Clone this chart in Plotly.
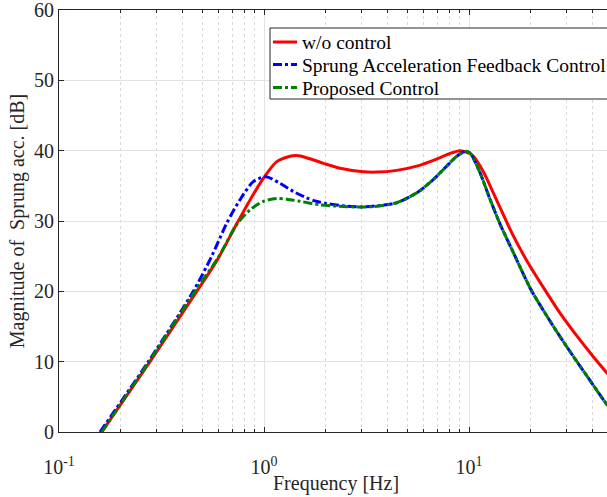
import math
import plotly.graph_objects as go

# ---------------- data ----------------
freq_wo = [0.1616, 0.278, 0.470, 0.59, 0.736, 0.855, 1.0, 1.15, 1.34, 1.445, 1.61, 1.95,
           2.35, 3.05, 3.55, 4.44, 5.56, 6.95, 8.07, 9.03, 10.1, 10.5, 11.75, 13.14,
           14.7, 16.4, 19.1, 23.0, 27.8, 33.5, 40.4, 47.1, 50.0]
mag_wo = [0.0, 10.0, 20.0, 24.4, 29.6, 33.0, 36.2, 38.4, 39.2, 39.3, 39.0, 38.2,
          37.5, 37.0, 36.95, 37.2, 37.8, 38.8, 39.6, 40.0, 39.6, 39.2, 37.0, 34.0,
          30.9, 27.95, 24.4, 20.6, 16.9, 13.7, 10.7, 8.4, 7.6]

freq_safc = [0.1585, 0.2727, 0.452, 0.556, 0.658, 0.763, 0.887, 1.02, 1.19, 1.39, 1.61,
             1.8, 2.02, 2.53, 3.05, 3.68, 4.44, 5.56, 6.70, 7.78, 8.71, 9.56, 10.1,
             11.3, 12.66, 14.15, 16.4, 20.0, 24.8, 30.0, 37.5, 47.1, 50.0]
mag_safc = [0.0, 10.0, 20.0, 25.0, 29.7, 33.0, 35.6, 36.3, 35.4, 34.2, 33.3,
            32.8, 32.5, 32.1, 32.0, 32.2, 32.6, 34.0, 35.9, 37.8, 39.2, 39.9, 39.7,
            36.9, 33.1, 29.6, 25.6, 20.3, 15.8, 12.1, 8.0, 3.9, 3.1]

freq_prop = [0.1616, 0.275, 0.4603, 0.598, 0.736, 0.855, 0.993, 1.15, 1.29, 1.5, 1.87,
             2.3, 2.83, 3.41, 4.44, 5.56, 6.70, 7.78, 8.71, 9.56, 10.1, 11.3, 12.66,
             14.15, 16.4, 20.0, 24.8, 30.0, 37.5, 47.1, 50.0]
mag_prop = [0.0, 10.0, 20.0, 24.8, 29.5, 31.6, 32.8, 33.2, 33.1, 32.8, 32.3,
            32.1, 32.0, 32.05, 32.6, 34.0, 35.9, 37.8, 39.2, 39.9, 39.7, 36.9, 33.1,
            29.6, 25.6, 20.3, 15.8, 12.1, 8.0, 3.9, 3.1]

series_names = ["w/o control", "Sprung Acceleration Feedback Control", "Proposed Control"]
series_colors = ["#ff0000", "#0000ff", "#008000"]
series_dash = ["solid", "dashdot", "dashdot"]

x_major_ticks = [0.1, 1, 10]
x_major_text = ["10<sup>-1</sup>", "10<sup>0</sup>", "10<sup>1</sup>"]
x_minor_ticks = [0.2, 0.3, 0.4, 0.5, 0.6, 0.7, 0.8, 0.9,
                 2, 3, 4, 5, 6, 7, 8, 9, 20, 30, 40]
y_ticks = [0, 10, 20, 30, 40, 50, 60]

x_title = "Frequency [Hz]"
y_title = "Magnitude of\u00a0 Sprung acc. [dB]"

# ---------------- figure ----------------
FONT = "Liberation Serif, Times New Roman, serif"
AX = "#262626"
W, H = 607, 497
ML, MT, MB = 59, 10, 65
PW, PH = W - ML, H - MT - MB

fig = go.Figure()
for fx, my, nm, col, ds in zip([freq_wo, freq_safc, freq_prop], [mag_wo, mag_safc, mag_prop],
                               series_names, series_colors, series_dash):
    fig.add_trace(go.Scatter(x=fx, y=my, name=nm, mode="lines", showlegend=False,
                             line=dict(color=col, width=3, dash=ds, shape="spline",
                                       smoothing=0.7)))

def px_x(p):
    return (p - ML) / PW

def px_y(p):
    return (H - MB - p) / PH

# legend drawn as a framed box (it runs past the right edge as in the reference)
fig.add_shape(type="rect", xref="paper", yref="paper",
              x0=px_x(270), x1=px_x(640), y0=px_y(99), y1=px_y(28),
              line=dict(color=AX, width=1), fillcolor="white", layer="above")
row_y = [42, 64.5, 87.5]
for ry, nm, col, ds in zip(row_y, series_names, series_colors, series_dash):
    fig.add_shape(type="line", xref="paper", yref="paper",
                  x0=px_x(273), x1=px_x(297), y0=px_y(ry), y1=px_y(ry),
                  line=dict(color=col, width=3, dash=ds), layer="above")
    fig.add_annotation(text=nm, xref="paper", yref="paper", x=px_x(300), y=px_y(ry + 1),
                       xanchor="left", yanchor="middle", showarrow=False,
                       font=dict(family=FONT, size=19.5, color="black"))

# x axis title
fig.add_annotation(text=x_title, xref="paper", yref="paper", x=px_x(336), y=px_y(483),
                   xanchor="center", yanchor="middle", showarrow=False,
                   font=dict(family=FONT, size=20, color=AX))

fig.update_layout(
    width=W, height=H,
    margin=dict(l=ML, r=0, t=MT, b=MB),
    paper_bgcolor="white", plot_bgcolor="white",
    font=dict(family=FONT, size=20, color=AX),
    showlegend=False,
)

fig.update_xaxes(
    type="log", range=[-1, math.log10(47.1)],
    tickvals=x_major_ticks, ticktext=x_major_text,
    ticks="inside", ticklen=5, tickcolor=AX, ticklabelstandoff=17,
    ticklabeloverflow="allow",
    showline=True, linecolor=AX, linewidth=1, mirror="ticks",
    showgrid=True, gridcolor="#e3e3e3", gridwidth=1,
    zeroline=False,
    tickfont=dict(family=FONT, size=20, color=AX),
    minor=dict(tickvals=x_minor_ticks, ticks="inside", ticklen=3, tickcolor=AX,
               showgrid=True, gridcolor="#d9d9d9", griddash="dot", gridwidth=1),
)
fig.update_yaxes(
    range=[0, 60], tickvals=y_ticks,
    ticks="inside", ticklen=5, tickcolor=AX,
    ticklabeloverflow="allow",
    showline=True, linecolor=AX, linewidth=1, mirror=False,
    showgrid=True, gridcolor="#e3e3e3", gridwidth=1,
    zeroline=False,
    tickfont=dict(family=FONT, size=20, color=AX),
    title=dict(text=y_title, font=dict(family=FONT, size=20, color=AX), standoff=4),
)

fig.write_html("out.html")
